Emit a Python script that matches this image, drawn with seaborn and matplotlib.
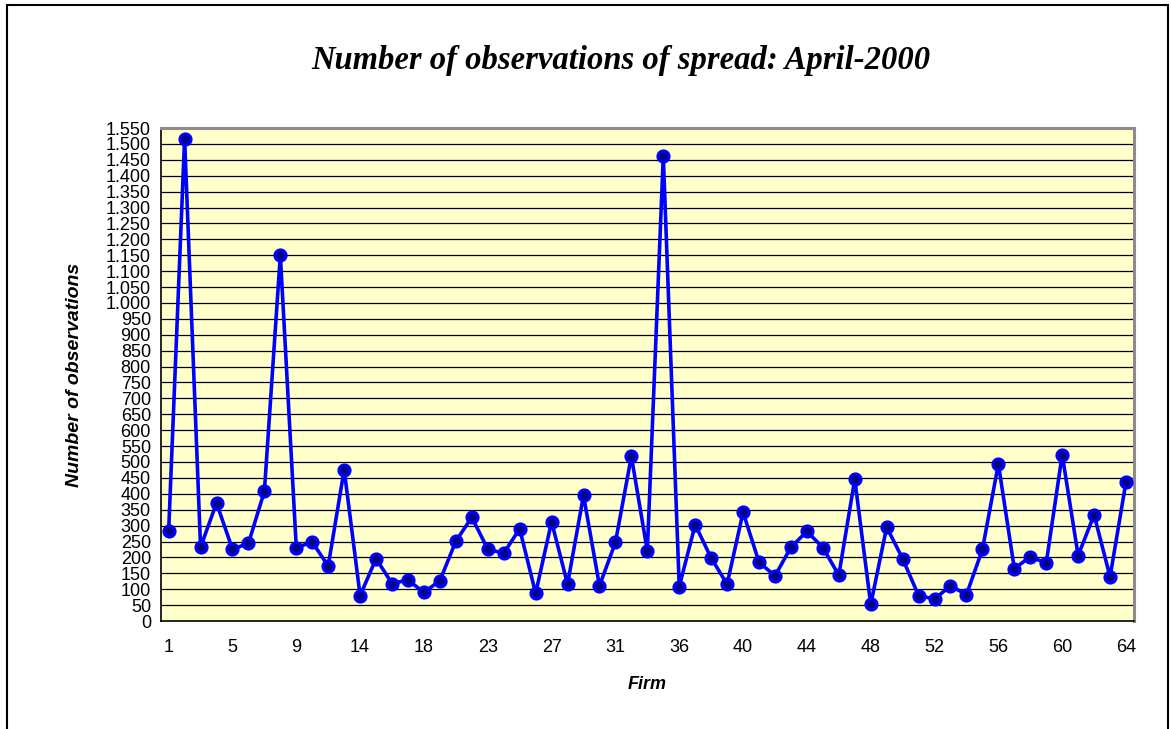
import numpy as np
import pandas as pd
import matplotlib
matplotlib.use('Agg')
import matplotlib.pyplot as plt
import seaborn as sns
from matplotlib.patches import Rectangle


# Firm ids (three firms missing from the sample) and observation counts
firms = [f for f in range(1, 65) if f not in (12, 21, 34)]
observations = [
    282, 1517, 232, 371, 226, 244, 408, 1150, 231, 248,
    173, 476, 80, 196, 118, 129, 90, 127, 251, 326,
    226, 213, 290, 87, 312, 116, 395, 111, 247, 518,
    220, 1462, 108, 303, 198, 116, 342, 185, 142, 232,
    282, 231, 144, 446, 52, 295, 196, 80, 69, 111,
    83, 225, 494, 165, 202, 182, 523, 206, 334, 139,
    438,
]
y_ticks = list(range(0, 1551, 50))

df = pd.DataFrame({'pos': np.arange(len(firms)), 'firm': firms, 'obs': observations})

sns.set_style('white')
plt.rcParams['font.family'] = ['Liberation Sans', 'DejaVu Sans']
plt.rcParams['text.color'] = 'black'
plt.rcParams['axes.labelcolor'] = 'black'

fig = plt.figure(figsize=(11.71, 7.29), dpi=100)
ax = fig.add_axes([0.1372, 0.1481, 0.8312, 0.6763])
ax.set_facecolor('#FFFFCC')

# chart border
fig.patches.append(Rectangle((7 / 1171, -0.05), 1161 / 1171, 1 - 5 / 729 + 0.05,
                             transform=fig.transFigure, fill=False,
                             edgecolor='black', linewidth=1.5, zorder=0))

for v in y_ticks[1:]:
    ax.axhline(v, color='black', linewidth=0.9, zorder=1)

sns.lineplot(data=df, x='pos', y='obs', ax=ax, color='#0000FF', linewidth=2.6,
             marker='o', markersize=8, markerfacecolor='#000080',
             markeredgecolor='#0000FF', markeredgewidth=2.2, zorder=3)

ax.set_xlim(-0.5, len(firms) - 0.5)
ax.set_ylim(0, 1550)

ax.set_yticks(y_ticks)
ax.set_yticklabels([f'{v:,}'.replace(',', '.') for v in y_ticks], fontsize=13)
label_pos = list(range(0, len(firms), 4))
ax.set_xticks(label_pos)
ax.set_xticklabels([str(firms[i]) for i in label_pos], fontsize=13)
ax.set_xticks(np.arange(-0.5, len(firms), 1), minor=True)
ax.tick_params(axis='x', which='major', length=0, pad=13)
ax.tick_params(axis='x', which='minor', length=5, width=1, color='black', direction='out')
ax.tick_params(axis='y', length=5, width=1, color='black', direction='out', pad=2)
ax.tick_params(axis='both', labelcolor='black')

for side in ['left', 'bottom']:
    ax.spines[side].set_color('black')
    ax.spines[side].set_linewidth(1.2)
for side in ['top', 'right']:
    ax.spines[side].set_color('#8c8c8c')
    ax.spines[side].set_linewidth(2.2)

ax.set_xlabel('Firm', fontsize=13, fontweight='bold', fontstyle='italic', labelpad=14)
ax.set_ylabel('Number of observations', fontsize=14, fontweight='bold',
              fontstyle='italic', labelpad=16)

fig.text(0.53, 1 - 60 / 729, 'Number of observations of spread: April-2000',
         ha='center', va='center', fontsize=23.5, fontweight='bold', fontstyle='italic',
         family=['Liberation Serif', 'DejaVu Serif'])

fig.savefig('out.png', dpi=100)
